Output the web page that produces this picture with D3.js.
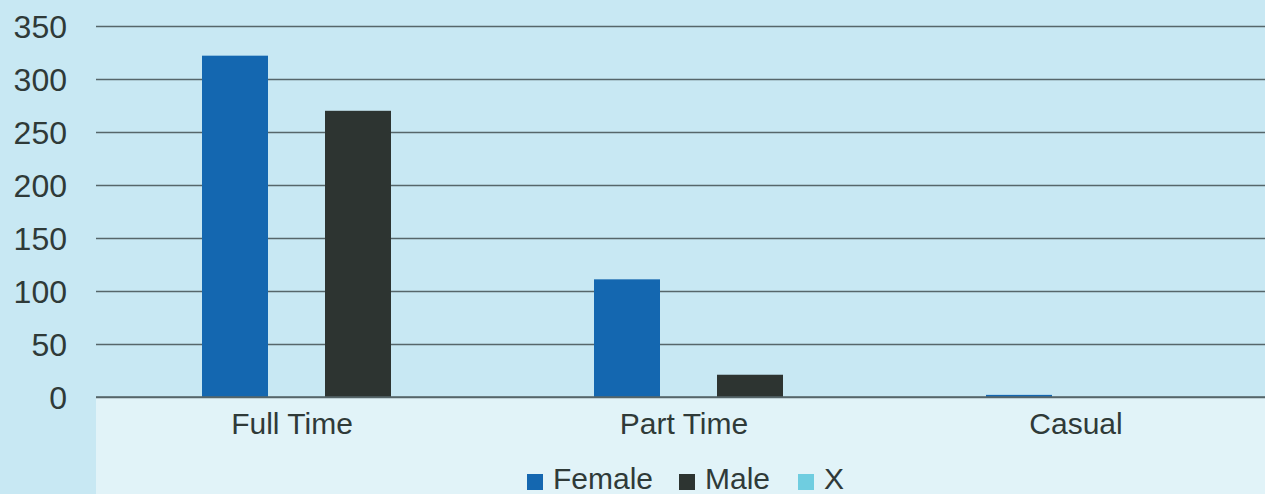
<!DOCTYPE html>
<html>
<head>
<meta charset="utf-8">
<title>Employment type by gender</title>
<script src="https://d3js.org/d3.v7.min.js"></script>
<style>
  html, body { margin: 0; padding: 0; background: #c8e8f3; }
  svg { display: block; }
  text { font-family: "Liberation Sans", Arial, sans-serif; fill: #2f3a38; }
</style>
</head>
<body>
<svg id="chart" width="1265" height="494"></svg>
<script>
// chart values
const categories = ['Full Time', 'Part Time', 'Casual'];
const series = ['Female', 'Male', 'X'];
const female = [322, 111, 2];
const male = [270, 21, 0];
const xSeries = [0, 0, 0];
const yTicks = [0, 50, 100, 150, 200, 250, 300, 350];
const colours = ['#1467b0', '#2d3431', '#6fcde0'];

const values = [female, male, xSeries];

const svg = d3.select('#chart');
const width = +svg.attr('width');
const height = +svg.attr('height');
const margin = {top: 26, left: 96, bottom: 97};
const plotBottom = height - margin.bottom;

// lower (axis + legend) panel is a lighter blue
svg.append('rect')
  .attr('x', margin.left).attr('y', plotBottom)
  .attr('width', width - margin.left).attr('height', height - plotBottom)
  .attr('fill', '#e1f3f8');

const y = d3.scaleLinear().domain([0, 350]).range([plotBottom, margin.top]);

const x0 = d3.scaleBand()
  .domain(categories)
  .range([margin.left, margin.left + 392 * categories.length]);

// series bars sit to the right inside each category, like the original
const x1 = d3.scaleBand()
  .domain(series)
  .range([0, 312])
  .paddingInner(0.4634)
  .paddingOuter(0);
const groupOffset = 106;

// grid + y labels
const yAxis = d3.axisLeft(y)
  .tickValues(yTicks)
  .tickSize(-(width - margin.left))
  .tickPadding(29);

const gy = svg.append('g')
  .attr('transform', `translate(${margin.left},0)`)
  .call(yAxis);
gy.select('.domain').remove();
gy.selectAll('.tick line').attr('stroke', '#56666a').attr('stroke-width', 1.5);
gy.selectAll('.tick text')
  .style('font-size', '32px')
  .attr('fill', '#2f3a38')
  .attr('dy', '0.36em');

// bars
const rows = [];
categories.forEach((c, i) => {
  series.forEach((s, j) => rows.push({cat: c, ser: s, val: values[j][i], col: colours[j]}));
});

svg.append('g').selectAll('rect')
  .data(rows)
  .enter()
  .append('rect')
  .attr('x', d => x0(d.cat) + groupOffset + x1(d.ser))
  .attr('y', d => y(d.val))
  .attr('width', x1.bandwidth())
  .attr('height', d => y(0) - y(d.val))
  .attr('fill', d => d.col);

// baseline drawn over bars
svg.append('line')
  .attr('x1', margin.left).attr('x2', width)
  .attr('y1', y(0)).attr('y2', y(0))
  .attr('stroke', '#56666a').attr('stroke-width', 1.5);

// category labels
const gx = svg.append('g')
  .attr('transform', `translate(0,${plotBottom})`)
  .call(d3.axisBottom(x0).tickSize(0));
gx.select('.domain').remove();
gx.selectAll('.tick text')
  .style('font-size', '30px')
  .attr('fill', '#2f3a38')
  .attr('y', 37)
  .attr('dy', 0);

// legend
const legendX = [527, 679, 798];
const leg = svg.append('g');
series.forEach((s, j) => {
  leg.append('rect')
    .attr('x', legendX[j]).attr('y', 474)
    .attr('width', 16).attr('height', 16)
    .attr('fill', colours[j]);
  leg.append('text')
    .attr('x', legendX[j] + 26).attr('y', 489)
    .style('font-size', '30px')
    .text(s);
});
</script>
</body>
</html>
